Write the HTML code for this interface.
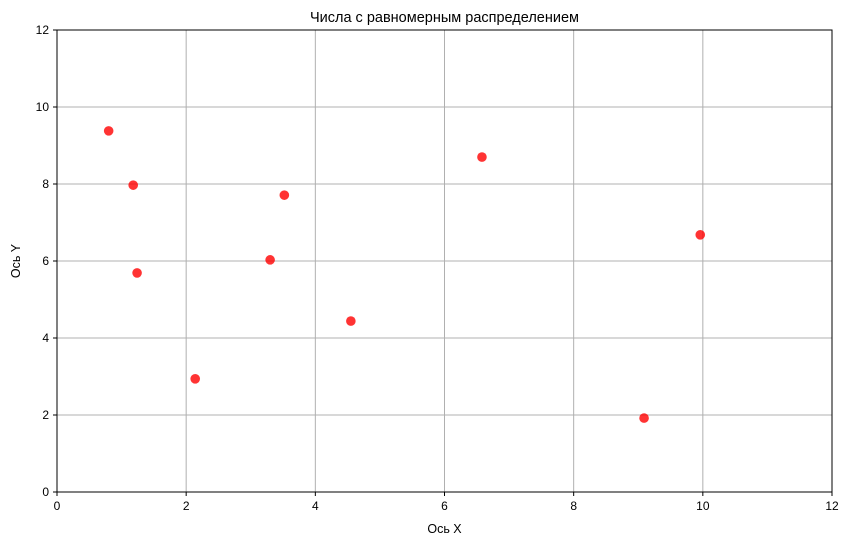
<!DOCTYPE html>
<html><head><meta charset="utf-8"><style>
body{margin:0;background:#fff;}
svg text{font-family:"Liberation Sans","DejaVu Sans",sans-serif;}
</style></head><body>
<svg id="chart" width="850" height="545" xmlns="http://www.w3.org/2000/svg">
<rect width="850" height="545" fill="#fff"/>
<g id="grid"></g>
<g id="points"></g>
<rect x="57" y="30" width="775" height="462" fill="none" stroke="#000" stroke-width="1"/>
<g id="ticks"></g>
<text x="444.5" y="22" text-anchor="middle" font-size="14.5">Числа с равномерным распределением</text>
<text x="444.5" y="533" text-anchor="middle" font-size="12.5">Ось X</text>
<text x="20" y="261" text-anchor="middle" font-size="12.5" transform="rotate(-90 20 261)">Ось Y</text>
</svg>
<script>
const xValues=[0.80,1.18,1.24,2.14,3.30,3.52,4.55,6.58,9.09,9.96];
const yValues=[9.38,7.97,5.69,2.94,6.03,7.71,4.44,8.70,1.92,6.68];
const xTicks=[0,2,4,6,8,10,12];
const yTicks=[0,2,4,6,8,10,12];
const NS="http://www.w3.org/2000/svg";
const L=57,R=832,T=30,B=492,XMAX=12,YMAX=12;
function sx(v){return L+(R-L)*v/XMAX;}
function sy(v){return B-(B-T)*v/YMAX;}
function mk(tag,attrs,parent){const e=document.createElementNS(NS,tag);for(const k in attrs)e.setAttribute(k,attrs[k]);parent.appendChild(e);return e;}
const grid=document.getElementById('grid'),ticks=document.getElementById('ticks'),pts=document.getElementById('points');
xTicks.forEach(t=>{
  const x=sx(t);
  const g=mk('line',{x1:x,x2:x,y1:T,y2:B,stroke:'#b0b0b0','stroke-width':1},grid);
  
  
  const tk=mk('line',{x1:x,x2:x,y1:B,y2:B+4,stroke:'#000'},ticks);
  
  
  const tx=mk('text',{x:x,y:B+18,'text-anchor':'middle','font-size':12},ticks);
  tx.textContent=t;
  
  
});
yTicks.forEach(t=>{
  const y=sy(t);
  const g=mk('line',{x1:L,x2:R,y1:y,y2:y,stroke:'#b0b0b0','stroke-width':1},grid);
  
  
  const tk=mk('line',{x1:L-4,x2:L,y1:y,y2:y,stroke:'#000'},ticks);
  
  
  const tx=mk('text',{x:L-8,y:y+4,'text-anchor':'end','font-size':12},ticks);
  tx.textContent=t;
  
  
});
xValues.forEach((v,i)=>{
  const c=mk('circle',{cx:sx(v),cy:sy(yValues[i]),r:4.8,fill:'red','fill-opacity':0.8},pts);
  
  
});
</script>
</body></html>
